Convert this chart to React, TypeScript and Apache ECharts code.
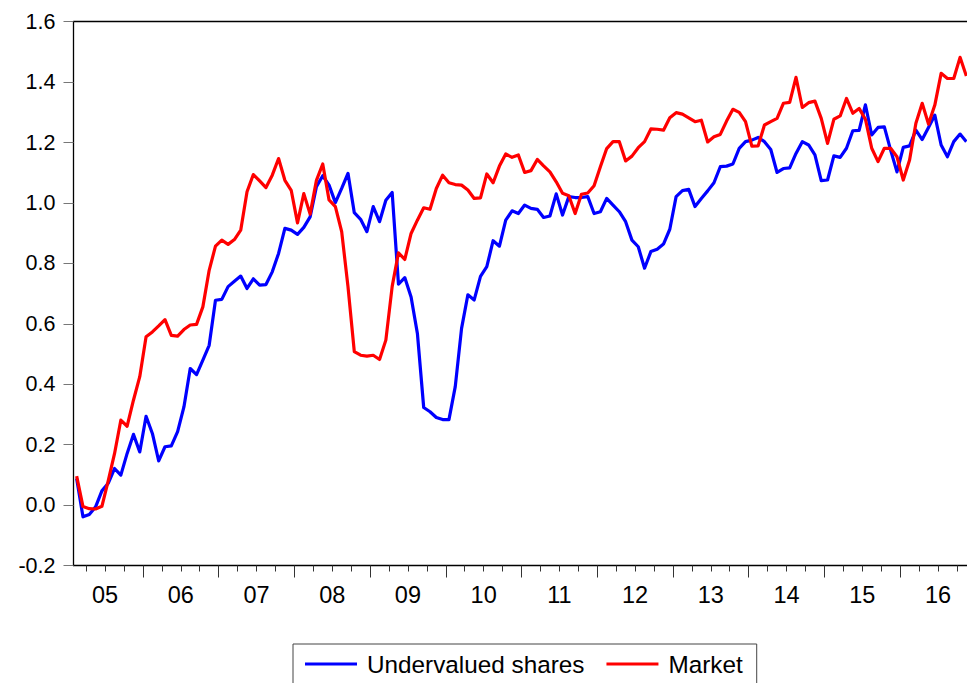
import React, { useEffect, useRef } from 'react';
import * as echarts from 'echarts';

// Monthly observations, first one in mid-February 2005
const FIRST_OBS_MONTH = 1.5; // months after 1 Jan 2005
const AXIS_START = 1; // 1 Feb 2005
const AXIS_END = 142.6;

const YEAR_LABELS = ['05', '06', '07', '08', '09', '10', '11', '12', '13', '14', '15', '16'];

const SERIES_NAMES = ['Undervalued shares', 'Market'];

const undervalued = [
  0.088, -0.039, -0.031, -0.006, 0.047, 0.072, 0.121, 0.099, 0.171, 0.234,
  0.176, 0.294, 0.237, 0.146, 0.193, 0.196, 0.243, 0.325, 0.452, 0.432,
  0.480, 0.529, 0.678, 0.681, 0.723, 0.741, 0.758, 0.717, 0.749, 0.728,
  0.730, 0.772, 0.833, 0.916, 0.910, 0.896, 0.919, 0.954, 1.054, 1.090,
  1.059, 1.001, 1.048, 1.098, 0.968, 0.946, 0.905, 0.988, 0.938, 1.009,
  1.035, 0.731, 0.753, 0.689, 0.568, 0.323, 0.309, 0.290, 0.283, 0.283,
  0.392, 0.585, 0.696, 0.679, 0.757, 0.789, 0.875, 0.857, 0.943, 0.974,
  0.965, 0.993, 0.982, 0.979, 0.952, 0.957, 1.030, 0.960, 1.021, 1.018,
  1.018, 1.021, 0.965, 0.971, 1.015, 0.993, 0.971, 0.938, 0.877, 0.855,
  0.784, 0.839, 0.847, 0.864, 0.913, 1.021, 1.041, 1.045, 0.988, 1.015,
  1.040, 1.067, 1.120, 1.122, 1.129, 1.181, 1.203, 1.208, 1.217, 1.203,
  1.177, 1.101, 1.114, 1.116, 1.164, 1.203, 1.192, 1.159, 1.074, 1.076,
  1.156, 1.151, 1.181, 1.239, 1.240, 1.325, 1.225, 1.250, 1.252, 1.175,
  1.103, 1.184, 1.189, 1.241, 1.210, 1.250, 1.291, 1.192, 1.153, 1.203,
  1.228, 1.203,
];

const market = [
  0.096, -0.005, -0.012, -0.013, -0.004, 0.080, 0.170, 0.281, 0.261, 0.347,
  0.425, 0.557, 0.573, 0.593, 0.614, 0.562, 0.559, 0.581, 0.596, 0.598,
  0.656, 0.777, 0.857, 0.877, 0.863, 0.879, 0.910, 1.037, 1.094, 1.073,
  1.051, 1.092, 1.147, 1.075, 1.042, 0.934, 1.031, 0.963, 1.075, 1.129,
  1.010, 0.988, 0.905, 0.723, 0.508, 0.496, 0.493, 0.496, 0.482, 0.546,
  0.723, 0.835, 0.813, 0.899, 0.943, 0.984, 0.979, 1.048, 1.092, 1.067,
  1.061, 1.059, 1.043, 1.015, 1.017, 1.096, 1.067, 1.122, 1.162, 1.151,
  1.159, 1.101, 1.107, 1.144, 1.123, 1.103, 1.070, 1.032, 1.024, 0.965,
  1.029, 1.033, 1.057, 1.120, 1.180, 1.203, 1.203, 1.139, 1.155, 1.183,
  1.203, 1.245, 1.244, 1.241, 1.282, 1.299, 1.294, 1.282, 1.269, 1.274,
  1.202, 1.219, 1.227, 1.271, 1.310, 1.300, 1.269, 1.188, 1.189, 1.258,
  1.269, 1.280, 1.330, 1.333, 1.416, 1.316, 1.332, 1.337, 1.280, 1.197,
  1.277, 1.288, 1.346, 1.297, 1.313, 1.277, 1.181, 1.137, 1.181, 1.181,
  1.153, 1.076, 1.142, 1.264, 1.330, 1.261, 1.324, 1.429, 1.412, 1.412,
  1.482, 1.420,
];

const FONT = 'Arial, "Liberation Sans", sans-serif';

function toPairs(values: number[]) {
  return values.map((v, i) => [FIRST_OBS_MONTH + i, v]);
}

export default function App() {
  const ref = useRef<HTMLDivElement>(null);

  useEffect(() => {
    if (!ref.current) return;
    const chart = echarts.init(ref.current, null, { renderer: 'svg' });

    const minorTicks: number[] = [];
    const majorTicks: number[] = [];
    for (let t = 3; t <= AXIS_END; t += 3) {
      if (t % 12 === 0) majorTicks.push(t);
      else minorTicks.push(t);
    }
    const labelValues = YEAR_LABELS.map((_, k) => 6 + 12 * k);

    chart.setOption({
      animation: false,
      backgroundColor: '#ffffff',
      grid: { left: 73.5, right: 0, top: 21.7, bottom: 117.5, containLabel: false },
      legend: {
        data: SERIES_NAMES,
        left: 293,
        top: 644,
        icon: 'rect',
        itemWidth: 52,
        itemHeight: 3,
        itemGap: 22,
        padding: [8, 14, 30, 12],
        borderColor: '#444',
        borderWidth: 1,
        textStyle: { fontSize: 24.3, fontFamily: FONT, color: '#000', padding: [0, 0, 0, 5] },
      },
      xAxis: [
        {
          type: 'value',
          min: AXIS_START,
          max: AXIS_END,
          position: 'bottom',
          axisLine: { show: true, onZero: false, lineStyle: { color: '#000', width: 1.3 } },
          axisTick: {
            show: true,
            customValues: minorTicks,
            length: 6,
            inside: false,
            lineStyle: { color: '#333', width: 1 },
          },
          axisLabel: {
            show: true,
            customValues: labelValues,
            formatter: (v: number) => YEAR_LABELS[Math.round((v - 6) / 12)] ?? '',
            fontSize: 23.5,
            fontFamily: FONT,
            color: '#000',
            margin: 17,
          },
          splitLine: { show: false },
        },
        {
          type: 'value',
          min: AXIS_START,
          max: AXIS_END,
          position: 'bottom',
          axisLine: { show: false, onZero: false },
          axisTick: {
            show: true,
            customValues: majorTicks,
            length: 12,
            inside: false,
            lineStyle: { color: '#333', width: 1 },
          },
          axisLabel: { show: false },
          splitLine: { show: false },
        },
        {
          type: 'value',
          min: AXIS_START,
          max: AXIS_END,
          position: 'top',
          axisLine: { show: true, onZero: false, lineStyle: { color: '#000', width: 1.3 } },
          axisTick: { show: false },
          axisLabel: { show: false },
          splitLine: { show: false },
        },
      ],
      yAxis: {
        type: 'value',
        min: -0.2,
        max: 1.6,
        interval: 0.2,
        axisLine: { show: true, onZero: false, lineStyle: { color: '#000', width: 1.3 } },
        axisTick: { show: true, length: 10, lineStyle: { color: '#777', width: 1 } },
        axisLabel: {
          formatter: (v: number) => v.toFixed(1),
          fontSize: 21.5,
          fontFamily: FONT,
          color: '#000',
          margin: 18,
        },
        splitLine: { show: false },
      },
      series: [
        {
          name: SERIES_NAMES[0],
          type: 'line',
          xAxisIndex: 0,
          data: toPairs(undervalued),
          showSymbol: false,
          clip: true,
          color: '#0000ff',
          lineStyle: { color: '#0000ff', width: 3.2, join: 'round' },
        },
        {
          name: SERIES_NAMES[1],
          type: 'line',
          xAxisIndex: 0,
          data: toPairs(market),
          showSymbol: false,
          clip: true,
          color: '#ff0000',
          lineStyle: { color: '#ff0000', width: 3.2, join: 'round' },
        },
      ],
    });

    return () => chart.dispose();
  }, []);

  return (
    <div
      ref={ref}
      style={{ position: 'absolute', left: 0, top: 0, width: 967, height: 683 }}
    />
  );
}
